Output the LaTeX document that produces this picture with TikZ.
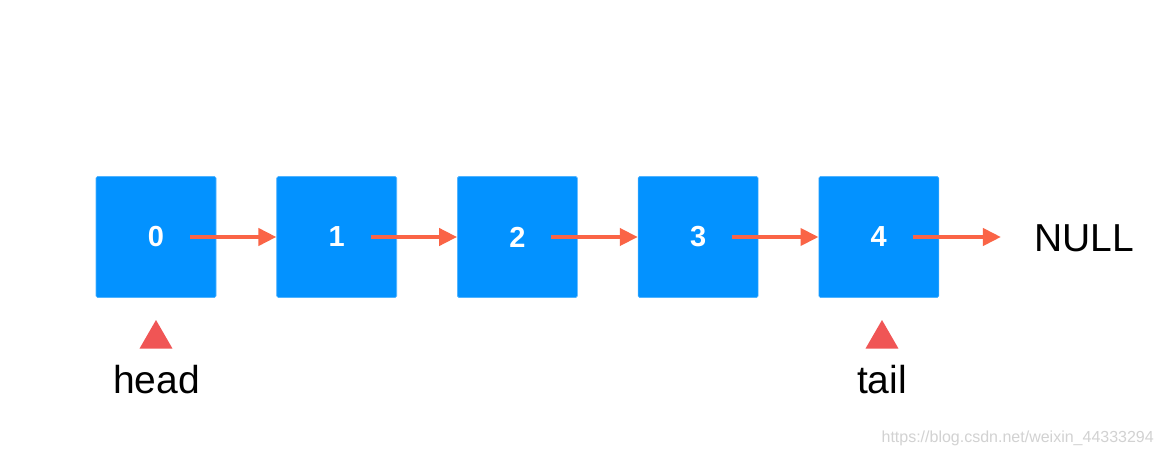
\documentclass[tikz,border=0pt]{standalone}
\usepackage{fontspec}
\setmainfont{Liberation Sans}
\usetikzlibrary{arrows.meta,shapes.geometric}

\definecolor{cellblue}{RGB}{3,146,255}
\definecolor{linkred}{RGB}{250,100,70}
\definecolor{markred}{RGB}{240,85,85}

\tikzset{
  cell/.style={fill=cellblue, draw=cellblue!70!white, line width=0.6pt, rounded corners=1.5pt,
    minimum width=120pt, minimum height=121pt, inner sep=0pt,
    text=white, font=\fontsize{29}{29}\selectfont\bfseries},
  link/.style={draw=linkred, line width=4pt, -{Triangle[length=18pt,width=17pt]}},
  marker/.style={regular polygon, regular polygon sides=3, fill=markred, minimum size=38pt, inner sep=0pt},
  tag/.style={anchor=base, inner sep=0pt, font=\fontsize{39}{39}\selectfont}
}

\begin{document}
\begin{tikzpicture}[x=1pt,y=1pt,yscale=-1,xscale=1]
		\useasboundingbox[fill=white] (0,0) rectangle (1165,449);

		% The five cells of the list
		\foreach \i in {0,...,4}
			\node[cell] (n\i) at (156+180.7*\i,237) {\i};

		% The end of the list
		\node[tag] (null) at (1084,252) {NULL};

		% Links between the cells
		\foreach \i/\j in {0/1,1/2,2/3,3/4}
			\draw[link] ([xshift=34pt]n\i.center) -- (n\j.west);
		\draw[link, shorten >=33pt] ([xshift=34pt]n4.center) -- (n4.center -| null.west);

		% Markers below the first and the last cell
		\node[marker] (headmark) at (156,339) {};
		\node[marker] (tailmark) at (882,339) {};
		\node[tag] (head) at (156.5,393) {head};
		\node[tag] (tail) at (882,393) {tail};

		% Watermark
		\node[anchor=base east, inner sep=0pt, text=gray!35, font=\fontsize{16}{16}\selectfont] (mark) at (1154,442) {https://blog.csdn.net/weixin\_44333294};
	\end{tikzpicture}
\end{document}
